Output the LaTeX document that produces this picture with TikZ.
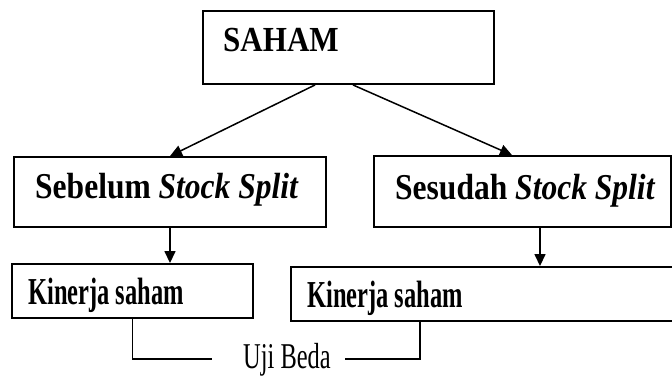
\documentclass[tikz,border=0pt]{standalone}
\usepackage{fontspec}
\setmainfont{Liberation Serif}
\usetikzlibrary{arrows.meta,calc}
\tikzset{
  box/.style={draw, line width=1.9pt, inner sep=0pt, minimum width=#1},
  lbl/.style={anchor=base west, inner sep=0pt},
  conn/.style={line width=1.5pt},
  arr/.style={conn, -{Triangle[length=12pt,width=11pt]}}
}
\begin{document}
\begin{tikzpicture}[x=1pt,y=-1pt]
\useasboundingbox (0,0) rectangle (672,375);
% boxes
\node[box=291pt, minimum height=73pt] (saham) at (348.5,47.5) {};
\node[box=312pt, minimum height=70pt] (sebelum) at (170,192) {};
\node[box=297pt, minimum height=71pt] (sesudah) at (522.5,191.5) {};
\node[box=241pt, minimum height=54pt] (kin1) at (132.5,291) {};
\node[box=383pt, minimum height=54pt] (kin2) at (482.5,294) {};
% texts
\node[lbl] (tsaham) at (223,51) {\scalebox{0.97}[1.1]{\fontsize{32}{32}\selectfont\bfseries SAHAM}};
\node[lbl] (tsebelum) at (35,198) {\scalebox{0.97}[1.12]{\fontsize{32.5}{32}\selectfont\bfseries Sebelum \textit{Stock Split}}};
\node[lbl] (tsesudah) at (395,199) {\scalebox{0.97}[1.12]{\fontsize{32.5}{32}\selectfont\bfseries Sesudah \textit{Stock Split}}};
\node[lbl] (tkin1) at (28,304) {\scalebox{0.72}[1.12]{\fontsize{34}{34}\selectfont\bfseries Kinerja saham}};
\node[lbl] (tkin2) at (307,307) {\scalebox{0.72}[1.12]{\fontsize{34}{34}\selectfont\bfseries Kinerja saham}};
\node[lbl] (uji) at (243,368) {\scalebox{0.74}[1.1]{\fontsize{33}{33}\selectfont Uji Beda}};
% connectors
\coordinate (sL) at ($(saham.south)+(-33.5,0)$);
\coordinate (sR) at ($(saham.south)+(4.5,0)$);
\coordinate (sesTop) at ($(sesudah.north)+(-10.5,0)$);
\coordinate (sesBot) at ($(sesudah.south)+(17.5,0)$);
\draw[arr] (sL) -- (sebelum.north);
\draw[arr] (sR) -- (sesTop);
\draw[arr] (sebelum.south) -- (sebelum.south |- kin1.north);
\draw[arr] (sesBot) -- (sesBot |- kin2.north);
\coordinate (ujiL) at (212,359);
\coordinate (ujiR) at (345,359);
\coordinate (kin2B) at ($(kin2.south west)+(130,0)$);
\draw[conn] (kin1.south) |- (ujiL);
\draw[conn] (ujiR) -| (kin2B);
\end{tikzpicture}
\end{document}
